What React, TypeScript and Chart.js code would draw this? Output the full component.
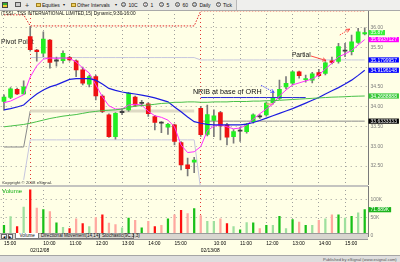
import React, { useEffect, useRef } from 'react';
import { Chart, registerables } from 'chart.js';

Chart.register(...registerables);

const FONT = '"Liberation Sans", Arial, sans-serif';
const CREAM = '#ffffe6';

// ---------- categories ----------
const sessionDates = ['02/11/08', '02/12/08', '02/13/08'];
const day0Times = ['15:00', '15:15', '15:30', '15:45'];
const fullDayTimes = [
  '9:30', '9:45', '10:00', '10:15', '10:30', '10:45', '11:00', '11:15', '11:30', '11:45',
  '12:00', '12:15', '12:30', '12:45', '13:00', '13:15', '13:30', '13:45', '14:00', '14:15',
  '14:30', '14:45', '15:00', '15:15', '15:30', '15:45',
];
const categories = [
  ...day0Times.map((t) => `${sessionDates[0]} ${t}`),
  ...fullDayTimes.map((t) => `${sessionDates[1]} ${t}`),
  ...fullDayTimes.map((t) => `${sessionDates[2]} ${t}`),
];

// ---------- OHLC (15 min) ----------
const opens = [
  34.13, 34.23, 34.44, 34.32, 35.77, 35.43, 35.35, 35.68, 35.15, 35.16,
  35.24, 35.16, 34.93, 34.57, 34.76, 34.27, 33.79, 33.24, 33.85, 33.92,
  34.24, 34.08, 34.07, 33.75, 33.59, 33.48, 33.54, 33.09, 32.53, 32.60,
  33.96, 33.30, 33.65, 33.85, 33.54, 33.24, 33.38, 33.37, 33.62, 33.74,
  33.79, 34.10, 34.21, 34.50, 34.59, 34.88, 34.68, 34.67, 34.86, 34.84,
  35.16, 35.14, 35.40, 35.39, 35.62, 35.84,
];
const highs = [
  34.30, 34.48, 34.47, 34.65, 36.02, 35.45, 35.89, 35.70, 35.25, 35.41,
  35.27, 35.18, 35.00, 34.80, 34.80, 34.30, 33.82, 33.85, 33.95, 34.36,
  34.27, 34.16, 34.10, 33.78, 33.62, 33.58, 33.56, 33.12, 32.70, 32.72,
  34.00, 34.04, 33.92, 33.88, 33.58, 33.42, 33.48, 33.58, 33.82, 33.80,
  34.12, 34.34, 34.67, 34.76, 34.90, 34.90, 34.80, 34.87, 34.94, 35.14,
  35.25, 35.60, 35.60, 35.81, 35.98, 35.99,
];
const lows = [
  33.92, 34.20, 34.30, 34.30, 35.40, 35.15, 35.26, 34.97, 35.02, 35.10,
  35.15, 34.76, 34.55, 34.50, 34.17, 33.85, 33.22, 33.18, 33.80, 33.88,
  34.00, 34.02, 33.75, 33.41, 33.34, 33.30, 33.03, 32.40, 32.25, 32.33,
  33.25, 33.26, 33.24, 33.16, 33.03, 33.08, 33.12, 33.33, 33.58, 33.70,
  33.76, 34.06, 34.18, 34.45, 34.55, 34.72, 34.62, 34.60, 34.75, 34.80,
  35.08, 35.10, 35.26, 35.31, 35.60, 35.81,
];
const closes = [
  34.24, 34.45, 34.32, 34.50, 35.44, 35.39, 35.71, 35.12, 35.17, 35.35,
  35.18, 34.93, 34.59, 34.76, 34.27, 33.88, 33.24, 33.83, 33.87, 34.34,
  34.04, 34.10, 33.82, 33.60, 33.58, 33.55, 33.12, 32.53, 32.43, 32.65,
  33.29, 33.80, 33.77, 33.51, 33.23, 33.37, 33.40, 33.56, 33.79, 33.76,
  34.09, 34.21, 34.44, 34.59, 34.88, 34.78, 34.71, 34.83, 34.78, 35.11,
  35.12, 35.52, 35.42, 35.64, 35.89, 35.87,
];

// ---------- studies ----------
const fastMA = [
  34.10, 34.14, 34.22, 34.30, 34.75, 35.03, 35.20, 35.23, 35.22, 35.23,
  35.22, 35.13, 34.98, 34.85, 34.55, 34.25, 34.02, 33.94, 33.94, 34.04,
  34.06, 34.04, 33.88, 33.77, 33.73, 33.66, 33.49, 33.03, 32.84, 32.86,
  32.99, 33.39, 33.51, 33.54, 33.49, 33.44, 33.46, 33.54, 33.68, 33.82,
  33.94, 34.07, 34.27, 34.42, 34.55, 34.60, 34.65, 34.70, 34.80, 34.95,
  35.10, 35.26, 35.33, 35.42, 35.56, 35.6937127,
];
const midMA = [
  33.92, 33.95, 33.99, 34.04, 34.19, 34.32, 34.42, 34.50, 34.55, 34.62,
  34.69, 34.71, 34.71, 34.71, 34.67, 34.57, 34.46, 34.41, 34.37, 34.34,
  34.32, 34.29, 34.26, 34.22, 34.17, 34.12, 33.99, 33.87, 33.74, 33.62,
  33.58, 33.55, 33.54, 33.54, 33.54, 33.54, 33.54, 33.56, 33.60, 33.65,
  33.71, 33.77, 33.83, 33.89, 33.95, 34.02, 34.09, 34.16, 34.23, 34.32,
  34.40, 34.48, 34.57, 34.67, 34.79, 34.9196148,
];
const slowMA = [
  33.49, 33.51, 33.53, 33.55, 33.58, 33.62, 33.66, 33.70, 33.73, 33.76,
  33.78, 33.80, 33.83, 33.86, 33.88, 33.90, 33.91, 33.92, 33.94, 33.98,
  34.01, 34.03, 34.04, 34.06, 34.08, 34.09, 34.11, 34.11, 34.12, 34.12,
  34.11, 34.11, 34.12, 34.12, 34.12, 34.13, 34.13, 34.13, 34.14, 34.14,
  34.15, 34.15, 34.16, 34.17, 34.18, 34.19, 34.20, 34.21, 34.22, 34.23,
  34.24, 34.245, 34.25, 34.26, 34.265, 34.2688888,
];

// level segments: [first bar, last bar, price]
const highLevel: [number, number, number][] = [[0, 3, 36.32], [4, 29, 36.04], [30, 55, 36.42]];
const pivotThin: [number, number, number][] = [[0, 3, 32.98], [4, 4, 33.89], [30, 55, 33.6333333]];
const pivotBand: [number, number, number][] = [[4, 29, 33.89]];
const resistanceLevel: [number, number, number][] = [[4, 29, 35.24], [30, 55, 35.1799957]];
const supportLevel: [number, number, number][] = [[3, 3, 32.15], [4, 29, 33.16], [30, 30, 31.9]];
const openingRangeHigh: [number, number, number][] = [[30, 46, 34.23]];
const nribLevel: [number, number, number][] = [[40, 41, 34.06]];

// ---------- volume (thousands) ----------
const volumes = [
  29, 53, 26, 79, 126, 76, 72, 67, 36, 24,
  20, 47, 34, 26, 50, 58, 35, 31, 22, 49,
  43, 22, 40, 26, 29, 47, 58, 70, 61, 75,
  56, 40, 40, 47, 34, 26, 17, 37, 36, 20,
  29, 29, 54, 20, 45, 38, 29, 29, 43, 47,
  58, 58, 49, 54, 63, 71.889,
];
const volumeTone = [
  'G', 'g', 'R', 'g', 'R', 'r', 'G', 'r', 'G', 'g',
  'R', 'r', 'R', 'g', 'r', 'R', 'r', 'r', 'g', 'G',
  'r', 'G', 'r', 'R', 'r', 'G', 'r', 'R', 'r', 'G',
  'r', 'g', 'g', 'r', 'R', 'g', 'G', 'g', 'G', 'r',
  'G', 'g', 'G', 'g', 'G', 'r', 'G', 'g', 'r', 'g',
  'r', 'G', 'g', 'G', 'g', 'G',
];

const priceTicks = [32.5, 33, 33.5, 34, 34.5, 35, 35.5, 36];
const hiddenPriceTicks = [35];
const volumeTicks = [0, 50, 100];

// ---------- helpers ----------
const last = (a: number[]) => a[a.length - 1];
const levelValue = (segs: [number, number, number][]) => segs[segs.length - 1][2];

function levelSeries(segs: [number, number, number][]) {
  const out: (number | null)[] = categories.map(() => null);
  segs.forEach(([a, b, v]) => {
    for (let i = a; i <= b; i++) out[i] = v;
  });
  return out;
}

const barTime = (i: number) => categories[i].split(' ')[1];
const barDate = (i: number) => categories[i].split(' ')[0];

function xGridColor(ctx: any) {
  const i = ctx.index;
  if (i === undefined || i >= categories.length) return 'rgba(0,0,0,0)';
  const t = barTime(i);
  if (t === '9:30') return 'rgba(225,40,40,0.95)';
  if (t.endsWith(':00')) return 'rgba(150,150,150,0.9)';
  return 'rgba(0,0,0,0)';
}

function tickLabel(i: number): string | string[] {
  const t = barTime(i);
  if (t === '9:30') return ['', barDate(i)];
  if (t.endsWith(':00')) return t;
  return '';
}

function bodyColor(i: number) {
  const d = closes[i] - opens[i];
  if (Math.abs(d) < 0.025) return '#404040';
  return d > 0 ? '#22ee22' : '#ee1111';
}

const toneColor: Record<string, string> = {
  G: '#18c018',
  g: '#9ee09e',
  R: '#ff1010',
  r: '#ffa8a0',
};

const priceTags = [
  { value: last(closes), text: last(closes).toFixed(2), bg: '#3cf03c' },
  { value: last(fastMA), text: String(last(fastMA)), bg: '#ff00ff' },
  { value: levelValue(resistanceLevel), text: String(levelValue(resistanceLevel)), bg: '#0000ff' },
  { value: last(midMA), text: String(last(midMA)), bg: '#0000ff' },
  { value: last(slowMA), text: String(last(slowMA)), bg: '#34c834' },
  { value: levelValue(pivotThin), text: String(levelValue(pivotThin)), bg: '#000000' },
];
const volumeTags = [{ value: last(volumes), text: `${last(volumes)}K`, bg: '#1cb41c' }];

// annotation placement in (bar index, price)
const noteTexts = [
  { text: 'Pivot Point', bar: -0.45, price: 35.63, size: 6.8, layer: 'under' },
  { text: 'NRIB at base of ORH', bar: 28.8, price: 34.38, size: 7.2, layer: 'over' },
  { text: 'Partial', bar: 43.9, price: 35.305, size: 6.6, layer: 'over' },
];
const noteArrows = [
  { from: [39.2, 34.54], to: [41.2, 34.36], color: '#2a2aff', dash: [1.5, 1] },
  { from: [46.8, 35.28], to: [49.1, 35.167], color: '#ff2020', dash: [] as number[] },
  { from: [51.2, 35.81], to: [52.7, 35.96], color: '#ff2020', dash: [1.5, 1] },
];

function drawArrow(ctx: CanvasRenderingContext2D, x1: number, y1: number, x2: number, y2: number, color: string, dash: number[]) {
  ctx.save();
  ctx.strokeStyle = color;
  ctx.lineWidth = 0.8;
  ctx.setLineDash(dash);
  ctx.beginPath();
  ctx.moveTo(x1, y1);
  ctx.lineTo(x2, y2);
  ctx.stroke();
  ctx.setLineDash([]);
  const a = Math.atan2(y2 - y1, x2 - x1);
  const L = 4;
  ctx.beginPath();
  ctx.moveTo(x2 - L * Math.cos(a - 0.45), y2 - L * Math.sin(a - 0.45));
  ctx.lineTo(x2, y2);
  ctx.lineTo(x2 - L * Math.cos(a + 0.45), y2 - L * Math.sin(a + 0.45));
  ctx.stroke();
  ctx.restore();
}

function drawNotes(chart: any, layer: string) {
  const { ctx, scales } = chart;
  ctx.save();
  ctx.fillStyle = '#111';
  ctx.textBaseline = 'middle';
  ctx.textAlign = 'left';
  noteTexts.filter((n) => n.layer === layer).forEach((n) => {
    ctx.font = `${n.size}px ${FONT}`;
    ctx.fillText(n.text, scales.x.getPixelForValue(n.bar), scales.y.getPixelForValue(n.price));
  });
  ctx.restore();
}

const notesPlugin = {
  id: 'notes',
  beforeDatasetsDraw(chart: any) {
    drawNotes(chart, 'under');
  },
  afterDatasetsDraw(chart: any) {
    drawNotes(chart, 'over');
    const { ctx, scales } = chart;
    noteArrows.forEach((a) => {
      drawArrow(
        ctx,
        scales.x.getPixelForValue(a.from[0]), scales.y.getPixelForValue(a.from[1]),
        scales.x.getPixelForValue(a.to[0]), scales.y.getPixelForValue(a.to[1]),
        a.color, a.dash,
      );
    });
  },
};

function tagPlugin(tags: { value: number; text: string; bg: string }[]) {
  return {
    id: 'tags',
    afterDraw(chart: any) {
      const { ctx, chartArea, scales } = chart;
      ctx.save();
      ctx.font = `5px ${FONT}`;
      ctx.textBaseline = 'middle';
      ctx.textAlign = 'left';
      tags.forEach((t) => {
        const py = scales.y.getPixelForValue(t.value);
        const w = ctx.measureText(t.text).width + 4;
        ctx.fillStyle = t.bg;
        ctx.fillRect(chartArea.right + 0.5, py - 2.6, w, 5.2);
        ctx.fillStyle = '#ffffff';
        ctx.fillText(t.text, chartArea.right + 2.5, py + 0.2);
      });
      ctx.restore();
    },
  };
}

const lineDs = (label: string, data: (number | null)[], color: string, width: number, extra: any = {}) => ({
  type: 'line' as const,
  label,
  data,
  borderColor: color,
  borderWidth: width,
  pointRadius: 0,
  tension: 0,
  spanGaps: false,
  fill: false,
  order: 1,
  ...extra,
});

function fixScale(size: { width?: number; height?: number }) {
  return (s: any) => {
    if (size.width !== undefined) s.width = size.width;
    if (size.height !== undefined) s.height = size.height;
    s.paddingTop = 0;
    s.paddingBottom = 0;
    s.paddingLeft = 0;
    s.paddingRight = 0;
  };
}

function priceConfig(): any {
  return {
    type: 'bar',
    data: {
      labels: categories,
      datasets: [
        lineDs('high', levelSeries(highLevel), '#e02828', 1, { borderDash: [1.5, 1.5], order: 9 }),
        lineDs('pivot band', levelSeries(pivotBand), '#dedac4', 3, { order: 9 }),
        lineDs('pivot', levelSeries(pivotThin), '#8a8a8a', 1, { order: 9 }),
        lineDs('resistance', levelSeries(resistanceLevel), '#c6c6de', 1, { order: 9 }),
        lineDs('support', levelSeries(supportLevel), '#c6c6de', 1, { order: 9 }),
        lineDs('ORH', levelSeries(openingRangeHigh), '#2a2ad8', 1, { order: 2 }),
        lineDs('NRIB', levelSeries(nribLevel), '#f2a890', 2, { order: 2 }),
        lineDs('slow MA', slowMA, '#48c048', 1, { order: 1 }),
        lineDs('mid MA', midMA, '#1c1ce0', 1.2, { order: 1 }),
        lineDs('fast MA', fastMA, '#ff30ff', 1, { order: 1 }),
        {
          type: 'bar',
          label: 'wick',
          data: highs.map((h, i) => [lows[i], h]),
          backgroundColor: '#7a7a7a',
          barThickness: 1,
          grouped: false,
          order: 6,
        },
        {
          type: 'bar',
          label: 'body',
          data: opens.map((o, i) => [o, closes[i]]),
          backgroundColor: (c: any) => bodyColor(c.dataIndex),
          barThickness: 4,
          minBarLength: 1.2,
          grouped: false,
          order: 5,
        },
      ],
    },
    options: {
      animation: false,
      responsive: false,
      maintainAspectRatio: false,
      devicePixelRatio: 1,
      layout: { padding: { left: 0.7, right: 0, top: 0, bottom: 0 } },
      plugins: { legend: { display: false }, tooltip: { enabled: false } },
      events: [],
      scales: {
        x: {
          type: 'category',
          offset: true,
          grid: { offset: false, color: xGridColor, lineWidth: 1, drawTicks: false },
          border: { display: false, dash: [1, 3] },
          ticks: { display: false, autoSkip: false },
          afterFit: fixScale({ height: 0 }),
        },
        y: {
          position: 'right',
          min: 32.02,
          max: 36.442,
          afterBuildTicks: (s: any) => {
            s.ticks = priceTicks.map((v) => ({ value: v }));
          },
          ticks: {
            callback: (v: number) => (hiddenPriceTicks.includes(v) ? '' : Number(v).toFixed(2)),
            font: { size: 5, family: FONT },
            color: '#7a7a7a',
            padding: 2.5,
            autoSkip: false,
          },
          grid: { color: 'rgba(150,150,150,0.9)', drawTicks: false, lineWidth: 1 },
          border: { display: true, color: '#7a7a7a', width: 1, dash: [1, 4] },
          afterFit: fixScale({ width: 32 }),
        },
      },
    },
    plugins: [notesPlugin, tagPlugin(priceTags)],
  };
}

function volumeConfig(): any {
  return {
    type: 'bar',
    data: {
      labels: categories,
      datasets: [
        {
          label: 'Volume',
          data: volumes,
          backgroundColor: volumeTone.map((t) => toneColor[t]),
          barThickness: 1.6,
        },
      ],
    },
    options: {
      animation: false,
      responsive: false,
      maintainAspectRatio: false,
      devicePixelRatio: 1,
      layout: { padding: { left: 0.7, right: 0, top: 0, bottom: 0 } },
      plugins: { legend: { display: false }, tooltip: { enabled: false } },
      events: [],
      scales: {
        x: {
          type: 'category',
          offset: true,
          grid: { offset: false, color: xGridColor, lineWidth: 1, drawTicks: false },
          border: { display: false, dash: [1, 3] },
          ticks: {
            autoSkip: false,
            maxRotation: 0,
            minRotation: 0,
            align: 'start',
            padding: 4.5,
            color: '#000',
            font: { size: 4.9, family: FONT, lineHeight: 1.4 },
            callback: (_v: any, i: number) => tickLabel(i),
          },
          afterFit: fixScale({ height: 19 }),
        },
        y: {
          position: 'right',
          min: 0,
          max: 136.6,
          afterBuildTicks: (s: any) => {
            s.ticks = volumeTicks.map((v) => ({ value: v }));
          },
          ticks: {
            callback: (v: number) => (v === 0 ? '0' : `${v}K`),
            font: { size: 5, family: FONT },
            color: '#7a7a7a',
            padding: 2.5,
            autoSkip: false,
          },
          grid: {
            color: (c: any) => (c.tick && c.tick.value === 0 ? 'rgba(0,0,0,0)' : 'rgba(150,150,150,0.9)'),
            drawTicks: false,
          },
          border: { display: true, color: '#7a7a7a', width: 1, dash: [1, 4] },
          afterFit: fixScale({ width: 32 }),
        },
      },
    },
    plugins: [tagPlugin(volumeTags)],
  };
}

// ---------- small HTML pieces ----------
function Txt(p: { x: number; y: number; size: number; color?: string; children: React.ReactNode; z?: number }) {
  return (
    <span
      style={{
        position: 'absolute',
        left: p.x,
        top: p.y,
        fontSize: p.size,
        lineHeight: 1,
        color: p.color || '#111',
        whiteSpace: 'nowrap',
        zIndex: p.z || 4,
      }}
    >
      {p.children}
    </span>
  );
}

function Circ(p: { x: number; ch: string }) {
  return (
    <span
      style={{
        position: 'absolute',
        left: p.x,
        top: 2,
        width: 5,
        height: 5,
        borderRadius: '50%',
        border: '0.6px solid #555',
        boxSizing: 'border-box',
        fontSize: 3,
        lineHeight: '4.2px',
        textAlign: 'center',
        color: '#333',
        background: '#f4f4f4',
      }}
    >
      {p.ch}
    </span>
  );
}

function Folder(p: { x: number }) {
  return (
    <span
      style={{
        position: 'absolute',
        left: p.x,
        top: 3,
        width: 5,
        height: 4,
        background: '#f0d060',
        border: '0.5px solid #a08020',
        boxSizing: 'border-box',
      }}
    />
  );
}

export default function App() {
  const priceRef = useRef<HTMLCanvasElement>(null);
  const volRef = useRef<HTMLCanvasElement>(null);

  useEffect(() => {
    document.body.style.margin = '0';
    const pc = new Chart(priceRef.current as HTMLCanvasElement, priceConfig());
    const vc = new Chart(volRef.current as HTMLCanvasElement, volumeConfig());
    return () => {
      pc.destroy();
      vc.destroy();
    };
  }, []);

  return (
    <div
      style={{
        position: 'fixed',
        left: 0,
        top: 0,
        width: 400,
        height: 262,
        background: CREAM,
        overflow: 'hidden',
        fontFamily: FONT,
      }}
    >
      {/* toolbar */}
      <div
        style={{
          position: 'absolute',
          left: 0,
          top: 0,
          width: 400,
          height: 10.5,
          background: '#efefed',
          borderBottom: '1px solid #a9a9a9',
          boxSizing: 'border-box',
          zIndex: 3,
        }}
      >
        <div style={{ position: 'absolute', left: 0, top: 0, width: 236, height: 9.5, background: '#e6e6e3', borderRight: '1px solid #b8b8b8' }} />
        <span style={{ position: 'absolute', left: 2, top: 2, width: 6, height: 6, background: 'linear-gradient(#3a3 0 50%, #ec3 50% 100%)', border: '0.5px solid #444', boxSizing: 'border-box' }} />
        <span style={{ position: 'absolute', left: 15, top: 2, width: 6, height: 5, background: '#ccc', border: '0.5px solid #555', boxSizing: 'border-box' }} />
        <Txt x={25} y={1.5} size={7} color="#333">+</Txt>
        <Folder x={36} />
        <Txt x={42} y={3} size={5}>Equities</Txt>
        <Txt x={62.5} y={3} size={4}>▾</Txt>
        <Folder x={70.5} />
        <Txt x={77} y={3} size={5}>Other Intervals</Txt>
        <Txt x={114.5} y={3} size={4}>▾</Txt>
        <Circ x={121} ch="D" />
        <Txt x={128.5} y={3} size={5}>10C</Txt>
        <Circ x={143} ch="1" />
        <Txt x={150.5} y={3} size={5}>1</Txt>
        <Circ x={159} ch="5" />
        <Txt x={166.5} y={3} size={5}>5</Txt>
        <Circ x={175} ch="6" />
        <Txt x={182.5} y={3} size={5}>60</Txt>
        <Circ x={192} ch="D" />
        <Txt x={199.5} y={3} size={5}>Daily</Txt>
        <Circ x={216} ch="T" />
        <Txt x={223} y={3} size={5}>Tick</Txt>
      </div>

      <canvas
        ref={priceRef}
        width={400}
        height={175}
        style={{ position: 'absolute', left: 0, top: 10, width: 400, height: 175 }}
      />
      <Txt x={1} y={12} size={4.7} color="#111">(TSSI - TSS INTERNATIONAL LIMITED,15) Dynamic,9:30-16:00</Txt>
      <Txt x={2} y={180.8} size={4.3} color="#333">Copyright © 2008 eSignal.</Txt>

      {/* panel separator */}
      <div style={{ position: 'absolute', left: 0, top: 185, width: 368, height: 1.5, background: '#c4c4c0', zIndex: 2 }} />

      <canvas
        ref={volRef}
        width={400}
        height={69}
        style={{ position: 'absolute', left: 0, top: 186, width: 400, height: 69 }}
      />
      <Txt x={2} y={188} size={6} color="#10b010">Volume</Txt>

      {/* study tabs */}
      <div
        style={{
          position: 'absolute',
          left: 0,
          top: 233,
          width: 368,
          height: 7,
          background: '#d8d6d0',
          borderTop: '1px solid #9a9a9a',
          borderBottom: '1px solid #9a9a9a',
          boxSizing: 'border-box',
          zIndex: 3,
        }}
      >
        <span style={{ position: 'absolute', left: 1, top: 0.3, width: 5.5, height: 4.6, background: '#f4f4f4', border: '0.5px solid #666', boxSizing: 'border-box', fontSize: 3.2, lineHeight: '4px', textAlign: 'center' }}>◀</span>
        <span style={{ position: 'absolute', left: 7.5, top: 0.3, width: 5.5, height: 4.6, background: '#f4f4f4', border: '0.5px solid #666', boxSizing: 'border-box', fontSize: 3.2, lineHeight: '4px', textAlign: 'center' }}>▶</span>
        <span style={{ position: 'absolute', left: 15, top: -1, width: 24, height: 6, background: '#ffffff', borderLeft: '0.5px solid #777', borderRight: '0.5px solid #777', borderBottom: '0.5px solid #777', boxSizing: 'border-box' }} />
        <span style={{ position: 'absolute', left: 39, top: -0.5, width: 61, height: 5.5, borderRight: '0.5px solid #777', borderBottom: '0.5px solid #777', boxSizing: 'border-box' }} />
        <span style={{ position: 'absolute', left: 100, top: -0.5, width: 34, height: 5.5, borderRight: '0.5px solid #777', borderBottom: '0.5px solid #777', boxSizing: 'border-box' }} />
        <Txt x={19.5} y={0.2} size={4.6}>Volume</Txt>
        <Txt x={41} y={0.2} size={4.6}>Directional Movement(14,14)</Txt>
        <Txt x={102} y={0.2} size={4.6}>Stochastic(9C,3,3)</Txt>
      </div>

      {/* status bar */}
      <div
        style={{
          position: 'absolute',
          left: 0,
          top: 255,
          width: 400,
          height: 7,
          background: '#dedede',
          borderTop: '1px solid #a6a6a6',
          boxSizing: 'border-box',
          zIndex: 3,
        }}
      >
        <Txt x={323} y={1.5} size={4.1} color="#555">Published by eSignal (www.esignal.com)</Txt>
      </div>
    </div>
  );
}
